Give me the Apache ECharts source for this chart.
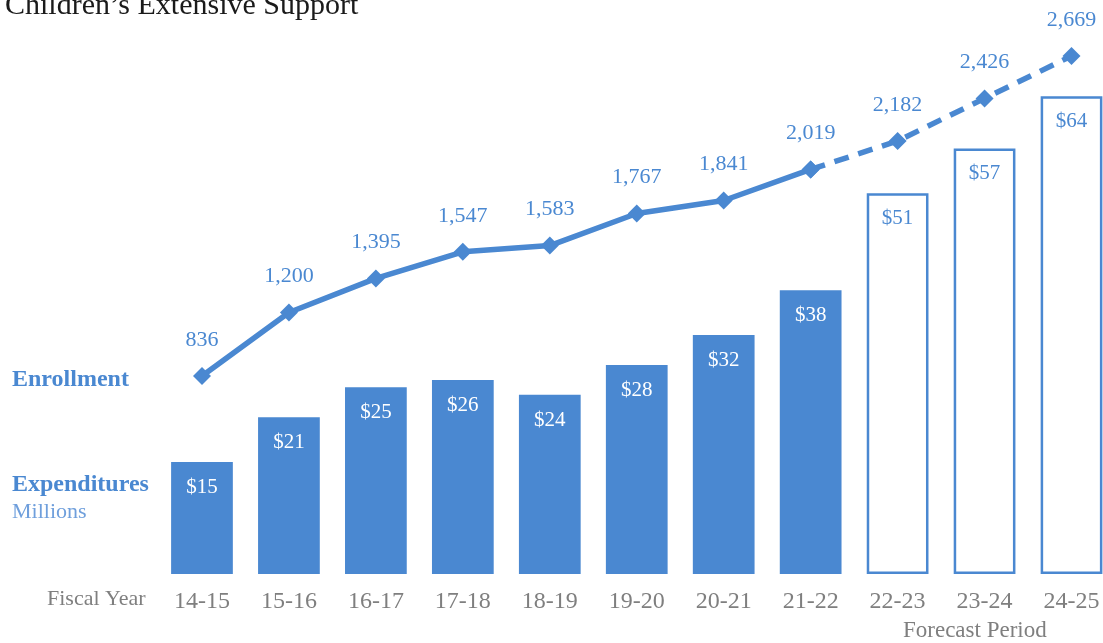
<!DOCTYPE html>
<html>
<head>
<meta charset="utf-8">
<script src="https://cdn.jsdelivr.net/npm/echarts@6/dist/echarts.min.js"></script>
<style>
  html, body { margin: 0; padding: 0; background: #ffffff; overflow: hidden; }
  /* the last category band runs a little past the visible edge */
  #chart { width: 1115px; height: 643px; }
</style>
</head>
<body>
<div id="chart"></div>
<script>
// Fiscal years, spending (millions of dollars) and enrollment
const years = ['14-15', '15-16', '16-17', '17-18', '18-19', '19-20', '20-21', '21-22', '22-23', '23-24', '24-25'];
const expenditures = [15, 21, 25, 26, 24, 28, 32, 38, 51, 57, 64];
const enrollment = [836, 1200, 1395, 1547, 1583, 1767, 1841, 2019, 2182, 2426, 2669];
const firstForecast = 8; // index of 22-23, first projected year

const BLUE = '#4a88d1';
const GRAY = '#7f7f7f';
const FONT = '"Liberation Serif", "DejaVu Serif", serif';

// Solid bars for actual years, outlined bars for projected years
const barData = expenditures.map((v, i) => {
  if (i < firstForecast) {
    return { value: v, itemStyle: { color: BLUE }, label: { color: '#ffffff' } };
  }
  return {
    value: v,
    itemStyle: { color: '#ffffff', borderColor: BLUE, borderWidth: 2.5 },
    label: { color: BLUE }
  };
});

// Actual enrollment drawn solid, projection drawn dashed from the last actual year
const actualLine = enrollment.map((v, i) => (i < firstForecast ? v : '-'));
const forecastLine = enrollment.map((v, i) => (i >= firstForecast - 1 ? v : '-'));

const chart = echarts.init(document.getElementById('chart'), null, { renderer: 'canvas' });

const lineLabel = {
  show: true,
  position: 'top',
  distance: 16,
  color: BLUE,
  fontFamily: FONT,
  fontSize: 22,
  formatter: p => p.value.toLocaleString('en-US')
};

chart.setOption({
  animation: false,
  backgroundColor: '#ffffff',
  grid: { left: 158.5, top: 20, right: 0, bottom: 69, containLabel: false },
  xAxis: {
    type: 'category',
    data: years,
    axisLine: { show: false },
    axisTick: { show: false },
    axisLabel: { color: GRAY, fontFamily: FONT, fontSize: 24, margin: 16 }
  },
  yAxis: [
    { type: 'value', min: 0, max: 74.2, show: false, splitLine: { show: false } },
    { type: 'value', min: -298, max: 2875, show: false, splitLine: { show: false } }
  ],
  series: [
    {
      type: 'bar',
      yAxisIndex: 0,
      data: barData,
      barCategoryGap: '29%',
      label: {
        show: true,
        position: 'insideTop',
        distance: 15,
        fontFamily: FONT,
        fontSize: 21,
        formatter: p => '$' + p.value
      },
      z: 1
    },
    {
      type: 'line',
      yAxisIndex: 1,
      data: actualLine,
      lineStyle: { color: BLUE, width: 5.5 },
      itemStyle: { color: BLUE },
      symbol: 'diamond',
      symbolSize: 18,
      label: lineLabel,
      z: 3
    },
    {
      type: 'line',
      yAxisIndex: 1,
      data: forecastLine,
      lineStyle: { color: BLUE, width: 5.5, type: [15, 10] },
      itemStyle: { color: BLUE },
      symbol: 'diamond',
      symbolSize: 18,
      label: Object.assign({}, lineLabel, {
        formatter: p => (p.dataIndex >= firstForecast ? p.value.toLocaleString('en-US') : '')
      }),
      z: 2
    }
  ],
  graphic: [
    {
      type: 'text', left: 5, top: -9,
      style: { text: 'Children\u2019s Extensive Support', fill: '#1a1a1a', font: '30px ' + FONT }
    },
    {
      type: 'text', left: 12, top: 368,
      style: { text: 'Enrollment', fill: BLUE, font: 'bold 24px ' + FONT }
    },
    {
      type: 'text', left: 12, top: 473,
      style: { text: 'Expenditures', fill: BLUE, font: 'bold 24px ' + FONT }
    },
    {
      type: 'text', left: 12, top: 501,
      style: { text: 'Millions', fill: '#6f9fdc', font: '22px ' + FONT }
    },
    {
      type: 'text', left: 47, top: 588,
      style: { text: 'Fiscal Year', fill: GRAY, font: '22px ' + FONT }
    },
    {
      type: 'text', left: 903, top: 619,
      style: { text: 'Forecast Period', fill: GRAY, font: '23px ' + FONT }
    }
  ]
});
</script>
</body>
</html>
